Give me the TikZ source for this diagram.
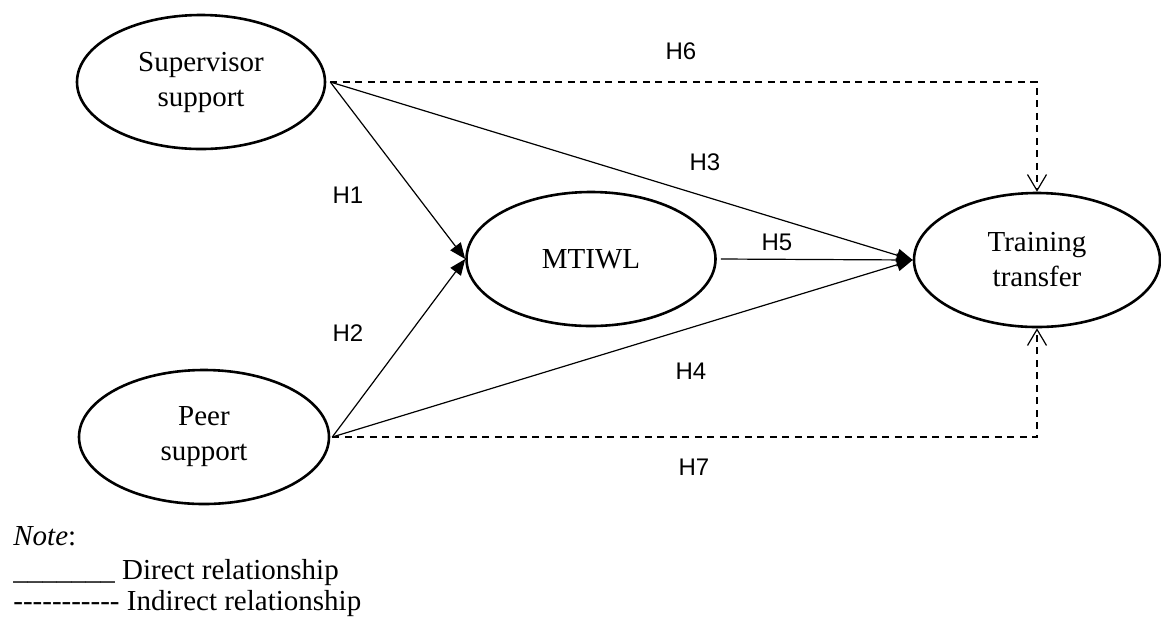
\documentclass[tikz,border=0pt]{standalone}
\usepackage{fontspec}
\setmainfont{Liberation Serif}
\newfontfamily\hypfont{Liberation Sans}
\newfontfamily\notefont{Liberation Serif}[Ligatures=TeXOff]
\usepackage{tikz}
\usetikzlibrary{arrows.meta, positioning, shapes.geometric}

\begin{document}
\begin{tikzpicture}[x=0.5pt, y=-0.5pt,
  latent/.style={ellipse, draw, line width=1.3pt, minimum width=124pt, minimum height=67pt,
    inner sep=0pt, align=center, font=\fontsize{14.5}{17.5}\selectfont},
  direct/.style={-{Triangle[length=8pt, width=6.5pt]}, line width=0.6pt},
  indirect/.style={-{Straight Barb[length=8pt, width=9.5pt, line width=0.6pt]},
    line width=0.9pt, dash pattern=on 3.5pt off 2.75pt},
  hyp/.style={font=\hypfont\fontsize{12}{14}\selectfont},
  legend/.style={anchor=base west, inner sep=0pt, font=\notefont\fontsize{14.5}{16}\selectfont}]
  \useasboundingbox (0,0) rectangle (1161,618);

  % constructs
  \node[latent] (sup) at (201,82) {Supervisor\\support};
  \node[latent, minimum width=124.5pt] (mtiwl) at (591,259) {MTIWL};
  \node[latent, minimum width=123pt] (tt) at (1037,260) {Training\\transfer};
  \node[latent, minimum width=125pt] (peer) at (204,437) {Peer\\support};
  \coordinate (sout) at ([xshift=2pt]sup.east);
  \coordinate (pout) at ([xshift=1pt]peer.east);

  % direct paths
  \draw[direct] (sout) -- (mtiwl.west);
  \draw[direct] (pout) -- (mtiwl.west);
  \draw[direct] (sout) -- (tt.west);
  \draw[direct] (pout) -- (tt.west);
  \draw[direct] ([xshift=2pt]mtiwl.east) -- (tt.west);

  % indirect paths
  \draw[indirect] (sout) -| (tt.north);
  \draw[indirect] (pout) -| (tt.south);

  % hypotheses
  \node[hyp] (h6) at (681,51) {H6};
  \node[hyp] (h3) at (705,162) {H3};
  \node[hyp] (h1) at (348,195) {H1};
  \node[hyp] (h5) at (777,242) {H5};
  \node[hyp] (h2) at (348,333) {H2};
  \node[hyp] (h4) at (691,371) {H4};
  \node[hyp] (h7) at (694,467) {H7};

  % note
  \node[legend] (note) at (13,545) {\textit{Note}:};
  \node[legend] (direct) at (13,579) {\_\_\_\_\_\_\_ Direct relationship};
  \node[legend] (indirect) at (13,610) {----------- Indirect relationship};
\end{tikzpicture}
\end{document}
